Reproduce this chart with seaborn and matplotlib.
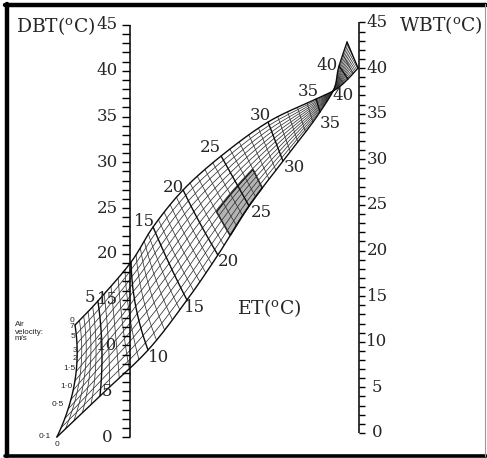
import numpy as np
import pandas as pd
import matplotlib
matplotlib.use("Agg")
import matplotlib.pyplot as plt
import seaborn as sns

sns.set_theme(style="white")
plt.rcParams["font.family"] = ["DejaVu Serif"]
plt.rcParams["mathtext.fontset"] = "dejavuserif"

# scales (deg C)
dbt_ticks = list(range(0, 46))
dbt_labels = list(range(0, 46, 5))
wbt_ticks = list(range(0, 46))
wbt_labels = list(range(0, 46, 5))
wbt_offset = 0.44      # WBT 0 sits a little higher than DBT 0
wbt_scale = 0.9963

# effective temperature chart, x: 0 = DBT scale, 1 = WBT scale, y: deg C on DBT scale
et_knots = [0, 5, 10, 15, 20, 25, 30, 35, 37, 40, 42]
# 0.1 m/s edge
slow_x = [-0.317, -0.129, 0.081, 0.251, 0.386, 0.522, 0.670, 0.832, 0.889, 0.915, 0.950]
slow_y = [0.00, 4.48, 9.50, 14.96, 19.88, 25.23, 30.14, 35.50, 37.79, 40.52, 43.14]
# 7 m/s edge
fast_x = [-0.238, -0.138, 0.007, 0.103, 0.234, 0.400, 0.605, 0.815, 0.889, 0.954, 0.998]
fast_y = [12.23, 14.85, 19.11, 22.94, 26.98, 30.69, 34.40, 36.92, 37.79, 39.10, 40.30]
bow = [0.039, 0.013, -0.017, -0.004, -0.004, 0, 0, 0, 0, 0, 0]

et_values = list(range(0, 43))
et_major = [5, 10, 15, 20, 25, 30, 35, 40]
vel_steps = 12
shade_et = (22, 27)
shade_s = (0.0, 0.4)

et_top_labels = ["5", "15", "20", "25", "30", "35", "40"]
et_bottom_labels = ["10", "15", "20", "25", "30", "35", "40"]
vel_labels = ["0", "7", "5", "3", "2", "1·5", "1·0", "0·5", "0·1", "0"]


def smooth(t, knots, vals):
    k = np.asarray(knots, float)
    v = np.asarray(vals, float)
    m = np.gradient(v, k)
    t = np.asarray(t, float)
    i = np.clip(np.searchsorted(k, t, side="right") - 1, 0, len(k) - 2)
    h = k[i + 1] - k[i]
    u = (t - k[i]) / h
    h00 = 2 * u**3 - 3 * u**2 + 1
    h10 = u**3 - 2 * u**2 + u
    h01 = -2 * u**3 + 3 * u**2
    h11 = u**3 - u**2
    return h00 * v[i] + h10 * h * m[i] + h01 * v[i + 1] + h11 * h * m[i + 1]


def node(e, s):
    lx, ly = smooth(e, et_knots, slow_x), smooth(e, et_knots, slow_y)
    hx, hy = smooth(e, et_knots, fast_x), smooth(e, et_knots, fast_y)
    b = np.interp(e, et_knots, bow)
    return (1 - s) * lx + s * hx + 4 * s * (1 - s) * b, (1 - s) * ly + s * hy


def px(x, y):
    # label positions in pixels
    return (x - 129.5) / 229.0, (437.0 - y) / 9.156


rows = []
for j in range(vel_steps + 1):
    s = j / vel_steps
    e = np.linspace(0, max(et_values), 211)
    x, y = node(e, s)
    kind = "edge" if j in (0, vel_steps) else "minor"
    rows.append(pd.DataFrame({"x": x, "y": y, "line": f"v{j}", "kind": kind}))
for ev in et_values:
    s = np.linspace(0, 1, 30)
    x, y = node(np.full_like(s, ev, dtype=float), s)
    kind = "major" if (ev in et_major or ev in (0, max(et_values))) else "minor"
    rows.append(pd.DataFrame({"x": x, "y": y, "line": f"e{ev}", "kind": kind}))
mesh = pd.concat(rows, ignore_index=True)

fig = plt.figure(figsize=(4.87, 4.58), dpi=100)
ax = fig.add_axes([0, 0, 1, 1])
ax.set_xlim(-129.5 / 229, 357.5 / 229)
ax.set_ylim((437 - 458) / 9.156, 437 / 9.156)
ax.axis("off")

# shaded cell block
se = np.linspace(*shade_et, 20)
ss = np.linspace(*shade_s, 10)
px1, py1 = node(se, shade_s[0])
px2, py2 = node(np.full_like(ss, shade_et[1], dtype=float), ss)
px3, py3 = node(se[::-1], shade_s[1])
px4, py4 = node(np.full_like(ss, shade_et[0], dtype=float), ss[::-1])
ax.fill(np.concatenate([px1, px2, px3, px4]), np.concatenate([py1, py2, py3, py4]),
        color="#b4b4b4", lw=1.1, ec="#1a1a1a", zorder=1)

styles = {"minor": ("#333333", 0.55), "major": ("#0d0d0d", 1.0), "edge": ("#0d0d0d", 1.0)}
for kind, (col, lw) in styles.items():
    sns.lineplot(data=mesh[mesh["kind"] == kind], x="x", y="y", units="line",
                 estimator=None, sort=False, color=col, lw=lw, legend=False, ax=ax, zorder=2)

fs = 12
fs_title = 13.5
# DBT scale
tick = 7.5 / 229
ax.vlines(0, min(dbt_ticks), max(dbt_ticks), color="black", lw=1.1)
ax.hlines(dbt_ticks, -tick, 0, color="black", lw=1.0)
for v in dbt_labels:
    ax.text(-0.098, v, str(v), ha="center", va="center", fontsize=fs)
ax.text(-0.150, 44.85, "DBT($^{\\mathrm{o}}$C)", ha="right", va="center", fontsize=fs_title)

# WBT scale
wy = [wbt_offset + wbt_scale * w for w in wbt_ticks]
ax.vlines(1, min(wy), max(wy), color="black", lw=1.1)
ax.hlines(wy, 1, 1 + tick * 0.9, color="black", lw=1.0)
for w in wbt_labels:
    ax.text(1.081, wbt_offset + wbt_scale * w, str(w), ha="center", va="center", fontsize=fs)
ax.text(1.176, 45.0, "WBT($^{\\mathrm{o}}$C)", ha="left", va="center", fontsize=fs_title)

# ET labels
top_pos = [(90, 297), (145, 222), (173, 187), (210, 148), (260, 115), (308, 92), (327, 65)]
bot_pos = [(159, 357), (195, 307), (228, 262), (261, 213), (294, 167), (330, 123), (343, 95)]
for lab, p in zip(et_top_labels, top_pos):
    ax.text(*px(*p), lab, ha="center", va="center", fontsize=fs)
for lab, p in zip(et_bottom_labels, bot_pos):
    ax.text(*px(*p), lab, ha="center", va="center", fontsize=fs)
ax.text(*px(269, 308), "ET($^{\\mathrm{o}}$C)", ha="center", va="center", fontsize=fs_title)

# air velocity labels
vel_pos = [(72, 320), (72, 327), (73, 337), (75, 350), (75, 358), (69, 369),
           (66, 386), (58, 405), (45, 437), (57, 444)]
for lab, p in zip(vel_labels, vel_pos):
    ax.text(*px(*p), lab, ha="center", va="center", fontsize=6, family=["Liberation Sans"])
ax.text(*px(15, 332), "Air\nvelocity:\nm/s", ha="left", va="center", fontsize=5.8,
        family=["Liberation Sans"], linespacing=1.0)

# picture frame
ax.plot([7 / 487, 7 / 487], [0.005, 0.992], color="black", lw=3.2, transform=ax.transAxes)
ax.plot([0.011, 0.997], [1 - 5.3 / 458, 1 - 5.3 / 458], color="black", lw=3.2, transform=ax.transAxes)
ax.plot([0.011, 0.997], [1 - 455.5 / 458, 1 - 455.5 / 458], color="black", lw=2.6, transform=ax.transAxes)
ax.plot([485 / 487, 485 / 487], [0.005, 0.992], color="#9a9a9a", lw=0.8, transform=ax.transAxes)

fig.savefig("out.png", dpi=100)
